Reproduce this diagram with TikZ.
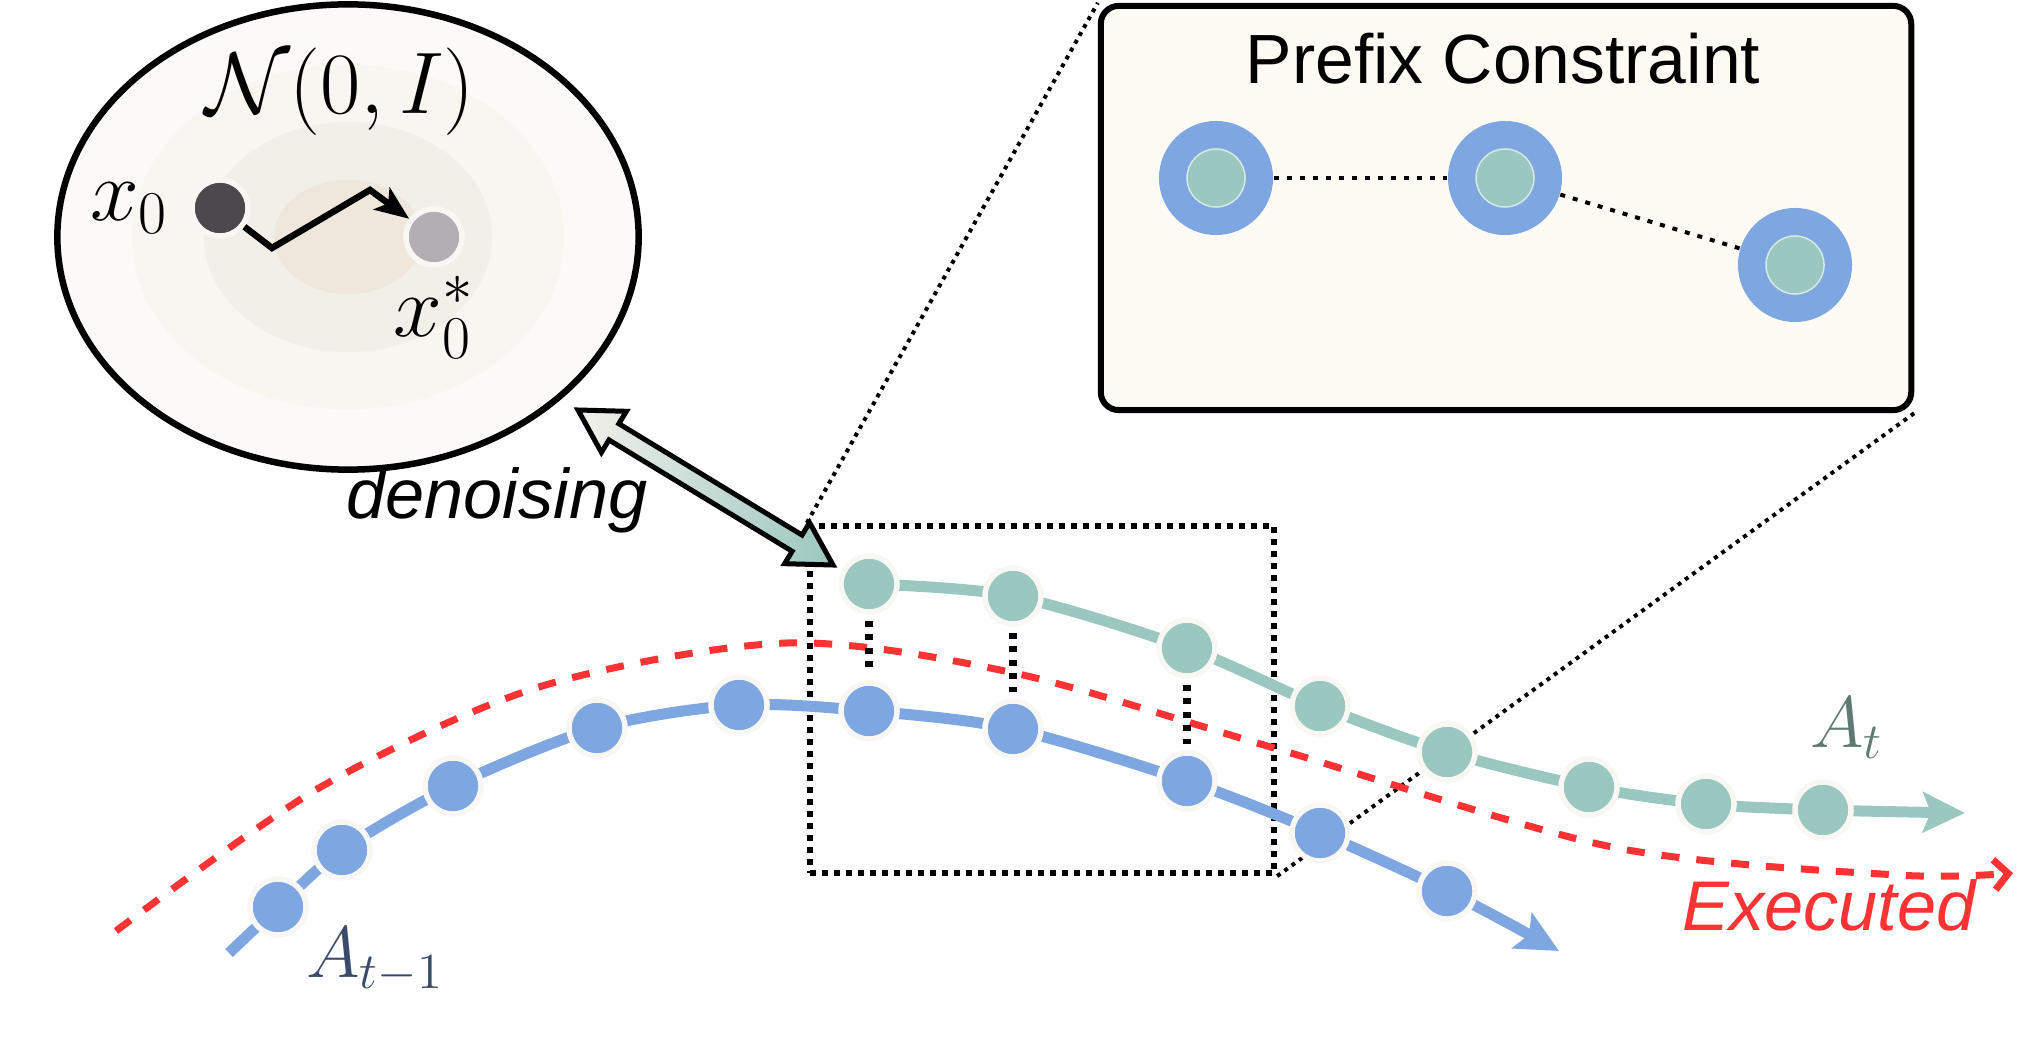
\documentclass[tikz,border=0pt]{standalone}
\usepackage{amsmath,amssymb}
\usepackage[no-math]{fontspec}
\newfontfamily\labelfont{Liberation Sans}
\usepackage{xcolor}
\usetikzlibrary{shapes.geometric, arrows.meta, positioning, calc}

\definecolor{trajblue}{HTML}{7EA6E0}
\definecolor{trajgreen}{HTML}{9AC7BF}
\definecolor{execred}{HTML}{FF3333}
\definecolor{panelfill}{HTML}{FDFBF4}
\definecolor{gaussA}{HTML}{FBFAF8}
\definecolor{gaussB}{HTML}{F8F6F0}
\definecolor{gaussC}{HTML}{F2EEE8}
\definecolor{gaussD}{HTML}{EFE7DC}
\definecolor{noisedark}{HTML}{4B484E}
\definecolor{noiselight}{HTML}{B2AEB2}
\definecolor{dotrim}{HTML}{F9F7F4}
\definecolor{dnlight}{HTML}{F2F1EA}
\definecolor{labelgreen}{HTML}{5F7A73}
\definecolor{labelblue}{HTML}{3B4B6B}

\begin{document}
\begin{tikzpicture}[
    x=0.01cm, y=-0.01cm,
    noise/.style={circle, draw=dotrim, line width=0.055cm, minimum size=0.56cm, inner sep=0pt},
    waypt/.style={circle, fill=#1, draw=dotrim, line width=0.055cm, minimum size=0.56cm, inner sep=0pt},
    ring/.style={circle, fill=trajblue, minimum size=1.14cm, inner sep=0pt},
    core/.style={circle, fill=trajgreen, draw=white!60!trajgreen, line width=0.015cm, minimum size=0.58cm, inner sep=0pt},
    traj/.style={draw=#1, line width=0.11cm, -{Stealth[length=0.42cm, width=0.4cm, inset=0.08cm]}},
    executed/.style={draw=execred, line width=0.07cm, dash pattern=on 0.18cm off 0.17cm, -{Straight Barb[length=0.14cm, width=0.3cm]}},
    link/.style={line width=0.075cm, dash pattern=on 0.06cm off 0.075cm, shorten >=0.06cm, shorten <=0.06cm},
    chain/.style={line width=0.04cm, dash pattern=on 0.05cm off 0.08cm},
    zoomline/.style={line width=0.04cm, dash pattern=on 0.04cm off 0.05cm},
    frame/.style={rectangle, draw, line width=0.06cm, dash pattern=on 0.06cm off 0.06cm, minimum width=4.64cm, minimum height=3.47cm},
    panel/.style={rectangle, draw, rounded corners=0.18cm, line width=0.06cm, fill=panelfill, minimum width=8.1cm, minimum height=4.04cm},
    denoise/.style={draw, line width=0.05cm, line join=miter, left color=dnlight, right color=trajgreen},
    mathlbl/.style={font=\fontsize{24}{28}\selectfont, inner sep=0pt},
    trajlbl/.style={font=\fontsize{22.3}{26}\selectfont, inner sep=0pt},
    sanslbl/.style={font=\labelfont\fontsize{19.8}{23}\selectfont, inner sep=0pt},
    itlbl/.style={font=\labelfont\itshape\fontsize{20}{24}\selectfont, inner sep=0pt}
]
\useasboundingbox (0,0) rectangle (2024,1040);

\node[ellipse, draw, line width=0.065cm, fill=gaussA, minimum width=5.81cm, minimum height=4.65cm, inner sep=0pt] (gauss) at (348,237) {};
\fill[gaussB] (gauss.center) ellipse [x radius=2.16cm, y radius=1.72cm];
\fill[gaussC] (gauss.center) ellipse [x radius=1.44cm, y radius=1.15cm];
\fill[gaussD] (gauss.center) ellipse [x radius=0.74cm, y radius=0.57cm];
\node[mathlbl] (normal) at (340,92) {$\mathcal{N}(0,I)$};
\node[noise, fill=noisedark] (x0) at (220,208) {};
\node[noise, fill=noiselight] (x0s) at (434,237) {};
\node[mathlbl, left=0.2cm of x0] (x0lbl) {$x_0$};
\node[mathlbl, below=0.08cm of x0s] (x0slbl) {$x_0^*$};
\coordinate (w1) at (272,248);
\coordinate (w2) at (370,190);
\draw[line width=0.065cm, -{Stealth[length=0.34cm, width=0.27cm, inset=0.08cm]}] (x0) -- (w1) -- (w2) -- (x0s);

\node[panel] (panel) at (1506,208) {};
\node[sanslbl] (ptitle) at (1503,59) {Prefix Constraint};
\foreach \n/\x/\y in {1/1216/178, 2/1505/178, 3/1795/265} {
    \node[ring] (ring\n) at (\x,\y) {};
    \node[core] (core\n) at (\x,\y) {};
}
\draw[chain] (ring1) -- (ring2);
\draw[chain] (ring2) -- (ring3);

\node[frame] (frame) at (1042,699.5) {};
\draw[zoomline] (frame.north west) -- (panel.north west);
\draw[zoomline] (frame.south east) -- (panel.south east);

\draw[executed] plot[smooth] coordinates {(116,931) (319,788) (539,687) (787,643) (1014,673) (1274,748) (1612,847) (1897,875) (2013,873)};

\foreach \n/\x/\y in {s/229/953, 1/278/907, 2/342/850, 3/453/786, 4/597/728, 5/739/705, 6/869/711, 7/1013/729, 8/1187/781, 9/1320/833, 10/1447/891, e/1559/951}
    \coordinate (b\n) at (\x,\y);
\foreach \n/\x/\y in {1/869/584, 2/1013/596, 3/1187/648, 4/1320/706, 5/1447/752, 6/1589/787, 7/1706/804, 8/1823/810, e/1965/813}
    \coordinate (g\n) at (\x,\y);
\draw[traj=trajblue] plot[smooth] coordinates {(bs) (b1) (b2) (b3) (b4) (b5) (b6) (b7) (b8) (b9) (b10) (be)};
\draw[traj=trajgreen] plot[smooth] coordinates {(g1) (g2) (g3) (g4) (g5) (g6) (g7) (g8) (ge)};
\foreach \n in {1,...,10}
    \node[waypt=trajblue] (bd\n) at (b\n) {};
\foreach \n in {1,...,8}
    \node[waypt=trajgreen] (gd\n) at (g\n) {};
\foreach \n/\m in {1/6, 2/7, 3/8}
    \draw[link] (gd\n) -- (bd\m);

\coordinate (dnA) at (578,410);
\coordinate (dnB) at (833,565);
\draw[denoise] (dnA)
    -- ($(dnA)!0.42cm!(dnB)!0.24cm!90:(dnB)$)
    -- ($(dnA)!0.42cm!(dnB)!0.095cm!90:(dnB)$)
    -- ($(dnB)!0.42cm!(dnA)!0.095cm!-90:(dnA)$)
    -- ($(dnB)!0.42cm!(dnA)!0.24cm!-90:(dnA)$)
    -- (dnB)
    -- ($(dnB)!0.42cm!(dnA)!0.24cm!90:(dnA)$)
    -- ($(dnB)!0.42cm!(dnA)!0.095cm!90:(dnA)$)
    -- ($(dnA)!0.42cm!(dnB)!0.095cm!-90:(dnB)$)
    -- ($(dnA)!0.42cm!(dnB)!0.24cm!-90:(dnB)$)
    -- cycle;
\node[itlbl] (dnlbl) at (497,500) {denoising};

\node[trajlbl, text=labelgreen] (atlbl) at (1847,728) {$A_t$};
\node[trajlbl, text=labelblue] (prevlbl) at (375,960) {$A_{t-1}$};
\node[itlbl, text=execred] (exlbl) at (1829,905) {Executed};
\end{tikzpicture}
\end{document}
